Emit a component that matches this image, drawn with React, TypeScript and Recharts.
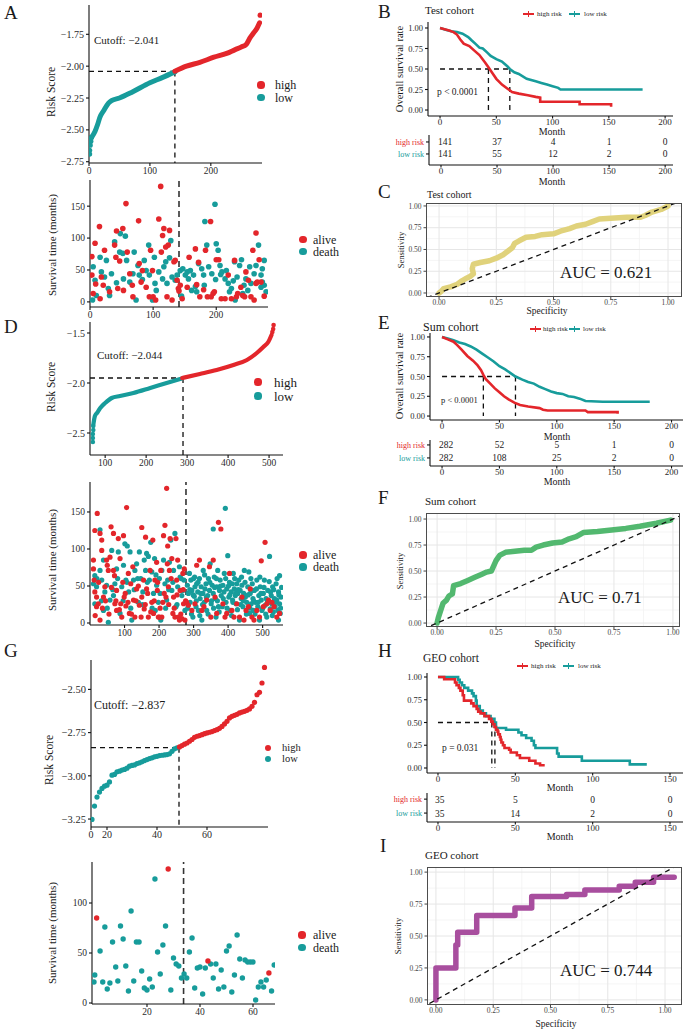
import React from 'react';
import { ComposedChart, XAxis, YAxis, Line, Scatter, ReferenceLine } from 'recharts';

const RED = '#E3262B';
const TEAL = '#179C9B';
const SERIF = '"Liberation Serif","Times New Roman",serif';

// ---------- Risk score curves (sample rank, risk score) ----------
const aRiskLow = [[4,-2.56],[10,-2.51],[14,-2.46],[18,-2.40],[24,-2.35],[32,-2.29],[37,-2.27],[50,-2.25],[72,-2.20],[100,-2.13],[120,-2.09],[141,-2.045]];
const aRiskLowDots = [[1,-2.69],[1,-2.66],[2,-2.62],[3,-2.59],[4,-2.56]];
const aRiskHigh = [[141,-2.04],[160,-2.00],[182,-1.97],[205,-1.93],[226,-1.90],[240,-1.87],[250,-1.85],[258,-1.83],[264,-1.78],[270,-1.74],[276,-1.70],[280,-1.66]];
const aRiskHighDots = [[281,-1.60]];

const dRiskLow = [[71,-2.42],[75,-2.33],[80,-2.30],[88,-2.25],[100,-2.20],[116,-2.15],[136,-2.13],[169,-2.10],[210,-2.05],[250,-2.00],[287,-1.955]];
const dRiskLowDots = [[70,-2.59],[70,-2.55],[70,-2.51],[71,-2.47],[71,-2.43]];
const dRiskHigh = [[288,-1.95],[331,-1.91],[372,-1.87],[413,-1.82],[446,-1.77],[470,-1.70],[486,-1.64],[498,-1.59],[506,-1.52]];
const dRiskHighDots = [[508,-1.49],[510,-1.46],[511,-1.42]];

const gRiskLow = [-3.252,-3.175,-3.123,-3.094,-3.073,-3.06,-3.054,-3.035,-2.996,-2.992,-2.977,-2.973,-2.967,-2.963,-2.956,-2.944,-2.94,-2.937,-2.929,-2.925,-2.919,-2.912,-2.906,-2.9,-2.896,-2.89,-2.887,-2.883,-2.881,-2.879,-2.877,-2.873,-2.858,-2.844,-2.838];
const gRiskHigh = [-2.833,-2.825,-2.817,-2.81,-2.80,-2.79,-2.777,-2.771,-2.767,-2.762,-2.756,-2.752,-2.748,-2.744,-2.738,-2.733,-2.725,-2.714,-2.70,-2.685,-2.665,-2.656,-2.65,-2.644,-2.636,-2.631,-2.627,-2.621,-2.613,-2.598,-2.575,-2.531,-2.517,-2.463,-2.373];
const gFirstRank = 14;

// ---------- Survival time scatter (rank, months) ----------
const aAlive = [[3,71],[3,42],[8,92],[9,28],[5,13],[15,118],[18,39],[21,26],[23,81],[16,5],[31,16],[39,89],[41,70],[42,111],[44,21],[47,64],[52,115],[53,18],[57,154],[59,78],[63,44],[67,26],[68,8],[77,127],[78,60],[81,31],[83,49],[89,23],[94,8],[96,81],[99,49],[100,8],[104,3],[109,130],[112,181],[113,78],[115,104],[117,115],[120,86],[122,8],[124,89],[126,112],[130,3],[133,63],[135,65],[138,34],[140,21],[141,17],[143,26],[146,5],[154,23],[157,70],[167,83],[169,27],[172,62],[174,8],[180,19],[183,81],[186,8],[191,126],[192,8],[195,13],[197,16],[200,66],[204,66],[208,5],[214,5],[219,42],[224,5],[229,65],[232,8],[234,13],[239,23],[242,10],[245,8],[247,47],[251,34],[255,8],[258,81],[260,3],[263,29],[265,31],[263,108],[268,66],[271,31],[276,9]];
const aDeath = [[5,55],[8,34],[4,3],[10,10],[16,70],[18,47],[23,39],[26,65],[29,21],[31,10],[34,44],[39,94],[42,30],[47,78],[48,107],[52,76],[53,36],[56,103],[58,65],[63,31],[68,44],[70,78],[73,3],[76,57],[78,42],[83,35],[86,65],[89,49],[93,89],[94,42],[99,3],[102,70],[103,29],[105,18],[109,47],[115,36],[117,55],[120,63],[122,29],[126,69],[128,96],[130,39],[135,34],[138,42],[143,49],[145,9],[147,52],[151,42],[154,47],[156,36],[159,49],[161,18],[164,42],[167,24],[169,16],[172,60],[177,52],[180,42],[181,26],[182,126],[185,89],[188,55],[193,44],[198,153],[199,35],[200,91],[203,81],[206,57],[207,43],[209,47],[214,36],[216,49],[219,29],[221,16],[224,21],[227,33],[229,63],[230,3],[233,39],[237,57],[240,66],[242,13],[244,26],[247,36],[250,18],[253,55],[255,29],[260,44],[263,57],[267,89],[271,42],[273,31],[276,65],[276,26],[279,16],[271,23],[273,52]];

const dAlive = [[21,148],[14,125],[10,85],[10,73],[12,58],[14,42],[19,35],[24,26],[19,22],[29,4],[29,121],[34,112],[34,98],[39,35],[43,49],[48,85],[50,78],[53,71],[58,89],[61,130],[68,121],[68,71],[71,64],[72,26],[77,44],[77,17],[82,114],[87,87],[89,26],[92,8],[97,118],[99,35],[104,23],[106,156],[111,67],[114,13],[118,53],[124,76],[126,31],[130,8],[135,46],[143,24],[150,129],[150,35],[155,58],[157,19],[161,116],[164,46],[169,8],[174,71],[179,28],[182,112],[184,13],[188,58],[193,82],[195,44],[198,8],[201,8],[205,71],[208,8],[211,28],[213,118],[217,132],[220,35],[222,182],[224,80],[225,104],[227,49],[230,71],[232,114],[237,87],[240,13],[242,35],[246,8],[249,114],[251,58],[254,85],[256,8],[259,4],[261,44],[266,6],[269,67],[271,26],[273,73],[275,4],[280,28],[285,24],[295,17],[304,26],[309,78],[317,85],[324,17],[330,22],[338,31],[346,76],[350,8],[357,85],[362,35],[367,13],[372,136],[379,127],[385,26],[391,8],[396,13],[404,67],[411,17],[417,8],[425,26],[433,8],[440,35],[446,4],[452,17],[459,22],[464,46],[469,8],[475,4],[483,17],[491,8],[496,84],[502,22],[507,109],[512,26],[517,31],[522,17],[527,28],[533,22],[541,8],[549,13],
  [15,10],[25,55],[36,20],[45,30],[55,12],[62,48],[75,30],[85,18],[95,55],[102,40],[110,28],[120,12],[133,30],[140,50],[148,8],[160,25],[167,40],[176,15],[186,30],[196,55],[203,20],[215,40],[228,25],[235,60],[244,20],[252,38],[263,12],[270,45],[277,30]];
const dDeath = [[29,126],[14,64],[10,53],[19,49],[14,26],[29,71],[34,58],[39,85],[39,17],[43,42],[48,51],[53,1],[58,31],[63,98],[68,37],[72,53],[77,73],[82,96],[87,13],[92,49],[97,78],[101,107],[104,58],[108,104],[112,42],[116,96],[121,4],[126,58],[130,71],[135,80],[140,28],[143,96],[147,60],[153,42],[157,85],[161,71],[164,94],[169,90],[172,58],[176,109],[179,69],[184,40],[187,87],[189,17],[193,51],[198,28],[201,60],[205,4],[208,71],[213,85],[217,53],[222,31],[225,58],[230,82],[234,112],[237,44],[242,71],[246,121],[249,22],[254,49],[259,76],[261,62],[266,37],[269,44],[272,58],[275,17],[282,51],[285,40],[288,67],[290,28],[292,58],[295,44],[298,8],[300,60],[302,36],[304,49],[307,22],[309,53],[312,42],[314,17],[317,60],[319,33],[322,49],[324,4],[327,40],[328,71],[331,28],[333,46],[336,53],[338,17],[341,37],[343,60],[346,44],[348,80],[351,26],[354,51],[357,40],[357,127],[360,62],[363,33],[365,8],[367,49],[370,71],[372,22],[375,44],[377,58],[380,37],[385,51],[386,33],[389,67],[392,155],[394,28],[396,46],[399,91],[402,35],[404,55],[406,17],[409,42],[412,53],[413,31],[415,67],[418,46],[421,37],[423,26],[425,53],[428,40],[431,58],[433,4],[435,44],[438,33],[440,51],[443,22],[445,40],[447,71],[450,35],[454,28],[457,49],[460,69],[462,13],[464,40],[467,26],[470,53],[472,33],[473,17],[476,44],[479,28],[483,58],[486,22],[489,37],[491,4],[493,49],[496,31],[498,17],[502,40],[505,58],[507,24],[510,33],[512,8],[515,44],[518,28],[520,90],[522,19],[525,37],[527,26],[529,49],[531,15],[534,33],[536,22],[539,53],[541,31],[544,17],[546,42],[549,26],[551,13],[553,35],[549,64],[546,4],
  [283,20],[289,45],[294,12],[299,38],[303,62],[308,30],[313,55],[318,10],[321,40],[326,25],[332,65],[337,35],[342,12],[347,55],[352,30],[358,20],[361,48],[366,60],[369,30],[374,15],[378,50],[383,22],[388,42],[393,60],[397,20],[401,50],[405,38],[410,10],[414,28],[419,60],[422,40],[427,18],[430,45],[436,25],[439,62],[444,30],[449,55],[453,12],[458,38],[463,20],[466,60],[471,44],[474,30],[478,12],[482,46],[487,28],[492,62],[495,40],[500,20],[504,48],[509,12],[514,30],[519,56],[523,42],[528,10],[532,45],[537,28],[542,60],[547,38],[552,20],[555,48],
  [20,60],[33,30],[50,20],[66,45],[80,60],[96,30],[107,55],[118,20],[128,45],[138,60],[152,25],[166,55],[180,20],[191,65],[203,40],[219,20],[228,45],[240,55],[252,25],[264,60]];

const gAlive = [[1,85],[28,134],[43,42],[66,30]];
const gDeath = [[0.3,28],[0,21],[2.3,52],[3.3,21],[4.1,76],[5,14],[6,20],[7,61],[8.2,36],[9,22],[10,77],[11,64],[12,37],[13,12],[14,92],[15,22],[16,61],[17,61],[18,32],[19,15],[20,13],[21,24],[22,16],[23,124],[24,51],[25,29],[26,58],[27,77],[29,13],[30,45],[31,39],[32,37],[33,25],[34,29],[35,25],[36,51],[37,65],[38,15],[39,35],[40,36],[41,9],[42,35],[44,39],[45,25],[46,39],[47,14],[48,33],[49,16],[50,52],[51,57],[52,11],[53,28],[54,68],[55,44],[56,25],[57,43],[58,41],[59,41],[60,41],[61,3],[62,16],[63,21],[64,16],[65,23],[67,12],[68,38]];

// ---------- Kaplan-Meier (month, survival) ----------
const bHigh = [[0,1],[8,0.97],[12,0.95],[15,0.92],[18,0.86],[21,0.81],[26,0.78],[30,0.73],[35,0.67],[40,0.58],[43,0.52],[46,0.46],[50,0.38],[55,0.31],[60,0.26],[64,0.22],[70,0.2],[78,0.18],[85,0.16],[89,0.15],[89,0.10],[124,0.10],[124,0.07],[152,0.07],[152,0.04]];
const bLow = [[0,1.0],[5,0.98],[10,0.96],[15,0.95],[20,0.93],[25,0.89],[28,0.85],[32,0.8],[35,0.76],[38,0.75],[42,0.7],[45,0.66],[50,0.62],[55,0.59],[60,0.53],[62,0.5],[66,0.46],[70,0.44],[77,0.38],[85,0.35],[90,0.33],[95,0.31],[100,0.29],[105,0.27],[107,0.25],[180,0.25]];
const eHigh = [[0,1],[5,0.97],[10,0.94],[13,0.9],[17,0.84],[22,0.76],[27,0.7],[31,0.64],[34,0.58],[36,0.52],[38,0.47],[42,0.41],[46,0.35],[50,0.3],[54,0.25],[58,0.21],[63,0.17],[68,0.14],[75,0.12],[85,0.1],[88,0.08],[92,0.07],[125,0.07],[127,0.05],[153,0.05],[153,0.03]];
const eLow = [[0,1],[5,0.98],[10,0.96],[15,0.93],[20,0.91],[25,0.88],[30,0.84],[35,0.79],[40,0.74],[45,0.69],[50,0.63],[55,0.59],[60,0.54],[64,0.5],[70,0.46],[75,0.43],[80,0.41],[85,0.37],[90,0.34],[95,0.31],[100,0.29],[105,0.28],[110,0.25],[115,0.24],[120,0.22],[125,0.19],[140,0.18],[181,0.18]];
const hHigh = [[0,1],[4,0.975],[11,0.94],[12,0.91],[13.5,0.88],[14.5,0.85],[16,0.8],[16.8,0.74],[21.5,0.71],[23,0.68],[25,0.65],[26,0.62],[27.5,0.6],[30,0.57],[33,0.54],[34.5,0.51],[35.5,0.48],[36.5,0.45],[37.5,0.42],[38.5,0.4],[39,0.37],[40,0.34],[40.5,0.31],[41,0.28],[42,0.25],[43,0.22],[46,0.2],[47,0.17],[51,0.14],[53,0.11],[59,0.08],[63,0.05],[66,0.03],[69,0.03]];
const hLow = [[0,1],[13,0.97],[14,0.94],[15.5,0.91],[17,0.88],[19.5,0.85],[22,0.82],[23,0.79],[24.5,0.74],[25,0.68],[27,0.63],[29,0.6],[31,0.57],[34,0.54],[36.5,0.5],[37.5,0.44],[44,0.42],[52,0.39],[54,0.36],[57,0.33],[60.5,0.3],[62,0.25],[63,0.22],[77,0.16],[78,0.125],[93,0.08],[124,0.04],[135,0.04]];

// ---------- Numbers at risk ----------
const tableTimesB = [0,50,100,150,200];
const bRiskHigh = [141,37,4,1,0];
const bRiskLow = [141,55,12,2,0];
const eRiskHigh = [282,52,5,1,0];
const eRiskLow = [282,108,25,2,0];
const tableTimesH = [0,50,100,150];
const hRiskHigh = [35,5,0,0];
const hRiskLow = [35,14,2,0];

// ---------- ROC (specificity axis, sensitivity) ----------
const rocC = [[0,0],[0.01,0.02],[0.02,0.05],[0.05,0.07],[0.08,0.1],[0.1,0.14],[0.12,0.17],[0.135,0.19],[0.15,0.22],[0.145,0.28],[0.15,0.33],[0.18,0.35],[0.22,0.37],[0.25,0.4],[0.28,0.44],[0.3,0.48],[0.32,0.52],[0.33,0.57],[0.35,0.6],[0.38,0.64],[0.42,0.65],[0.45,0.67],[0.5,0.68],[0.53,0.71],[0.57,0.74],[0.6,0.77],[0.64,0.79],[0.67,0.82],[0.7,0.85],[0.75,0.86],[0.82,0.87],[0.88,0.87],[0.9,0.89],[0.93,0.93],[0.97,0.96],[1,1]];
const rocF = [[0,0],[0.005,0.05],[0.015,0.12],[0.025,0.19],[0.04,0.22],[0.05,0.26],[0.065,0.28],[0.07,0.36],[0.1,0.38],[0.13,0.41],[0.16,0.44],[0.19,0.47],[0.21,0.49],[0.23,0.5],[0.24,0.55],[0.25,0.6],[0.265,0.65],[0.29,0.68],[0.33,0.69],[0.37,0.7],[0.4,0.7],[0.42,0.73],[0.45,0.75],[0.49,0.77],[0.53,0.78],[0.56,0.81],[0.59,0.83],[0.62,0.87],[0.68,0.88],[0.72,0.89],[0.8,0.91],[0.86,0.93],[0.93,0.96],[0.99,0.99]];
const rocI = [[0,0],[0,0.25],[0.087,0.25],[0.087,0.43],[0.095,0.43],[0.095,0.53],[0.178,0.53],[0.178,0.66],[0.345,0.66],[0.345,0.72],[0.418,0.72],[0.418,0.81],[0.57,0.81],[0.57,0.825],[0.65,0.825],[0.65,0.86],[0.8,0.86],[0.8,0.89],[0.87,0.89],[0.87,0.92],[0.95,0.92],[0.95,0.96],[1.04,0.96]];

const ROC_MAJOR = [0, 0.25, 0.5, 0.75, 1];
const ROC_MINOR = [0.125, 0.375, 0.625, 0.875];

// ---------- helpers ----------
const pts = (a: number[][]) => a.map(([x, y]) => ({ x, y }));
const fmt = (d: number) => (v: number) => v.toFixed(d).replace('-', '\u2212');
const dot = (r: number, c: string) => (p: any) => <circle cx={p.cx} cy={p.cy} r={r} fill={c} />;

function Chart({ box, padL, padB, padT = 6, padR = 6, children }: any) {
  const [x0, y0, x1, y1] = box;
  const width = x1 - x0 + padL + padR;
  const height = y1 - y0 + padT + padB;
  return (
    <div style={{ position: 'absolute', left: x0 - padL, top: y0 - padT, width, height }}>
      <ComposedChart width={width} height={height} margin={{ top: padT, right: padR, bottom: 0, left: 0 }}>
        {children}
      </ComposedChart>
    </div>
  );
}

function T({ x, y, size = 10, color = '#1a1a1a', anchor = 'start', rot = false, children }: any) {
  const tx = anchor === 'middle' ? '-50%' : anchor === 'end' ? '-100%' : '0';
  return (
    <div style={{ position: 'absolute', left: x, top: y, fontFamily: SERIF, fontSize: size, color, lineHeight: 1, whiteSpace: 'nowrap',
      transform: rot ? 'translate(-50%,-50%) rotate(-90deg)' : `translate(${tx},-50%)` }}>{children}</div>
  );
}

function Dot({ x, y, r = 3.6, color }: any) {
  return <div style={{ position: 'absolute', left: x - r, top: y - r, width: 2 * r, height: 2 * r, borderRadius: '50%', background: color }} />;
}

function KmKey({ x, y, color, w = 11 }: any) {
  return (
    <div style={{ position: 'absolute', left: x, top: y - 1.2, width: w, height: 2.4, background: color }}>
      <div style={{ position: 'absolute', left: w / 2 - 0.6, top: -1.6, width: 1.2, height: 5.6, background: color }} />
    </div>
  );
}

const axisStyle = { stroke: '#111', strokeWidth: 1.1 };
const tk = (size: number, fill = '#2a2a2a') => ({ fontSize: size, fill, fontFamily: SERIF });
const dash = { stroke: '#111', strokeDasharray: '5 4', strokeWidth: 1.3 };

function RiskPlot({ box, xDomain, xTicks, xFmt, yDomain, yTicks, yFmt, low, high, lowDots, highDots, cut, lw = 5, r = 2.6, tickSize = 10 }: any) {
  return (
    <Chart box={box} padL={40} padB={16}>
      <XAxis type="number" dataKey="x" domain={xDomain} ticks={xTicks} tickFormatter={xFmt} allowDataOverflow interval={0} height={16}
        tick={tk(tickSize - 0.5)} tickSize={3} tickMargin={1} axisLine={axisStyle} tickLine={axisStyle} />
      <YAxis type="number" dataKey="y" domain={yDomain} ticks={yTicks} tickFormatter={yFmt} allowDataOverflow interval={0} width={40}
        tick={tk(tickSize)} tickSize={3} axisLine={axisStyle} tickLine={axisStyle} />
      <ReferenceLine segment={[{ x: xDomain[0], y: cut[1] }, { x: cut[0], y: cut[1] }]} {...dash} ifOverflow="visible" />
      <ReferenceLine segment={[{ x: cut[0], y: cut[1] }, { x: cut[0], y: yDomain[0] }]} {...dash} ifOverflow="visible" />
      {low ? <Line data={pts(low)} dataKey="y" type="monotone" stroke={TEAL} strokeWidth={lw} strokeLinecap="round" dot={false} isAnimationActive={false} /> : null}
      {high ? <Line data={pts(high)} dataKey="y" type="monotone" stroke={RED} strokeWidth={lw} strokeLinecap="round" dot={false} isAnimationActive={false} /> : null}
      <Scatter data={pts(lowDots)} fill={TEAL} shape={dot(r, TEAL)} isAnimationActive={false} />
      <Scatter data={pts(highDots)} fill={RED} shape={dot(r, RED)} isAnimationActive={false} />
    </Chart>
  );
}

function SurvPlot({ box, xDomain, xTicks, yDomain, yTicks, alive, death, cutX, r = 2.8 }: any) {
  return (
    <Chart box={box} padL={40} padB={16}>
      <XAxis type="number" dataKey="x" domain={xDomain} ticks={xTicks} allowDataOverflow interval={0} height={16}
        tick={tk(9.5)} tickSize={3} tickMargin={1} axisLine={axisStyle} tickLine={axisStyle} />
      <YAxis type="number" dataKey="y" domain={yDomain} ticks={yTicks} allowDataOverflow interval={0} width={40}
        tick={tk(9.5)} tickSize={3} axisLine={axisStyle} tickLine={axisStyle} />
      <Scatter data={pts(death)} fill={TEAL} shape={dot(r, TEAL)} isAnimationActive={false} />
      <Scatter data={pts(alive)} fill={RED} shape={dot(r, RED)} isAnimationActive={false} />
      <ReferenceLine segment={[{ x: cutX, y: yDomain[0] }, { x: cutX, y: yDomain[1] }]} stroke="#333" strokeDasharray="6 4" strokeWidth={1.6} />
    </Chart>
  );
}

function KMPlot({ box, xDomain, xTicks, yDomain, high, low, medLen, medX, step = false }: any) {
  const t = step ? 'stepAfter' : 'linear';
  return (
    <Chart box={box} padL={30} padB={12}>
      <XAxis type="number" dataKey="x" domain={xDomain} ticks={xTicks} allowDataOverflow interval={0} height={12}
        tick={tk(9)} tickSize={2.5} tickMargin={0} axisLine={axisStyle} tickLine={axisStyle} />
      <YAxis type="number" dataKey="y" domain={yDomain} ticks={[0, 0.25, 0.5, 0.75, 1]} tickFormatter={fmt(2)} allowDataOverflow interval={0} width={30}
        tick={tk(8.5)} tickSize={3} axisLine={axisStyle} tickLine={axisStyle} />
      <ReferenceLine segment={[{ x: 0, y: 0.5 }, { x: medLen, y: 0.5 }]} {...dash} />
      {medX.map((m: number, i: number) => (
        <ReferenceLine key={i} segment={[{ x: m, y: 0.5 }, { x: m, y: 0 }]} {...dash} />
      ))}
      <Line data={pts(low)} dataKey="y" type={t} stroke={TEAL} strokeWidth={2.6} dot={false} isAnimationActive={false} />
      <Line data={pts(high)} dataKey="y" type={t} stroke={RED} strokeWidth={2.6} dot={false} isAnimationActive={false} />
    </Chart>
  );
}

function TablePlot({ box, xDomain, xTicks, yDomain, times, high, low }: any) {
  const hi = times.map((x: number, i: number) => ({ x, y: 2, v: high[i] }));
  const lo = times.map((x: number, i: number) => ({ x, y: 1, v: low[i] }));
  const cell = (p: any) => (
    <text x={p.cx} y={p.cy} dy={3.5} textAnchor={p.payload.x === 0 ? 'start' : 'middle'} dx={p.payload.x === 0 ? -3 : 0}
      fontSize={9.5} fontFamily={SERIF} fill="#1a1a1a">{p.payload.v}</text>
  );
  const yTick = (p: any) => (
    <text x={p.x} y={p.y} dy={3} textAnchor="end" fontSize={8} fontFamily={SERIF} fill={p.payload.value === 2 ? RED : TEAL}>
      {p.payload.value === 2 ? 'high risk' : 'low risk'}
    </text>
  );
  return (
    <Chart box={box} padL={60} padB={12} padT={2}>
      <XAxis type="number" dataKey="x" domain={xDomain} ticks={xTicks} allowDataOverflow interval={0} height={12}
        tick={tk(9)} tickSize={2.5} tickMargin={0} axisLine={axisStyle} tickLine={axisStyle} />
      <YAxis type="number" dataKey="y" domain={yDomain} ticks={[1, 2]} allowDataOverflow interval={0} width={60}
        tick={yTick} tickSize={3} axisLine={axisStyle} tickLine={axisStyle} />
      <Scatter data={hi} shape={cell} isAnimationActive={false} />
      <Scatter data={lo} shape={cell} isAnimationActive={false} />
    </Chart>
  );
}

function RocPlot({ box, xDomain, yDomain, data, color }: any) {
  const [x0, y0, x1, y1] = box;
  return (
    <>
      <Chart box={box} padL={30} padB={11} padT={2} padR={2}>
        <XAxis type="number" dataKey="x" domain={xDomain} ticks={ROC_MAJOR} tickFormatter={fmt(2)} allowDataOverflow interval={0} height={11}
          tick={tk(7.5, '#444')} tickSize={2.5} tickMargin={0} axisLine={false} tickLine={{ stroke: '#444' }} />
        <YAxis type="number" dataKey="y" domain={yDomain} ticks={ROC_MAJOR} tickFormatter={fmt(2)} allowDataOverflow interval={0} width={30}
          tick={tk(7.5, '#444')} tickSize={2.5} axisLine={false} tickLine={{ stroke: '#444' }} />
        {ROC_MINOR.map((v) => <ReferenceLine key={'mx' + v} x={v} stroke="#F2F2F2" strokeWidth={0.8} />)}
        {ROC_MINOR.map((v) => <ReferenceLine key={'my' + v} y={v} stroke="#F2F2F2" strokeWidth={0.8} />)}
        {ROC_MAJOR.map((v) => <ReferenceLine key={'Mx' + v} x={v} stroke="#E6E6E6" strokeWidth={1} />)}
        {ROC_MAJOR.map((v) => <ReferenceLine key={'My' + v} y={v} stroke="#E6E6E6" strokeWidth={1} />)}
        <Line data={pts(data)} dataKey="y" type="linear" stroke={color} strokeWidth={5.5} strokeLinejoin="round" strokeLinecap="round" dot={false} isAnimationActive={false} />
        <ReferenceLine segment={[{ x: -0.2, y: -0.2 }, { x: 1.2, y: 1.2 }]} stroke="#111" strokeDasharray="5 4" strokeWidth={1.3} ifOverflow="hidden" />
      </Chart>
      <div style={{ position: 'absolute', left: x0, top: y0, width: x1 - x0, height: y1 - y0, border: '1px solid #4d4d4d', boxSizing: 'border-box' }} />
    </>
  );
}

export default function App() {
  const gLow = gRiskLow.map((y, i) => [gFirstRank + i, y]);
  const gHigh = gRiskHigh.map((y, i) => [gFirstRank + gRiskLow.length + i, y]);
  return (
    <div style={{ position: 'absolute', left: 0, top: 0, width: 685, height: 1033, background: '#fff', overflow: 'hidden', fontFamily: SERIF }}>
      {/* ---------- A ---------- */}
      <T x={4} y={12} size={19}>A</T>
      <RiskPlot box={[89, 5, 262, 163]} xDomain={[0, 284]} xTicks={[0, 100, 200]} yDomain={[-2.76, -1.52]}
        yTicks={[-2.75, -2.5, -2.25, -2.0, -1.75]} yFmt={fmt(2)} low={aRiskLow} high={aRiskHigh}
        lowDots={aRiskLowDots} highDots={aRiskHighDots} cut={[141, -2.041]} />
      <T x={94} y={40} size={11}>Cutoff: {'\u2212'}2.041</T>
      <T x={52} y={92} size={11.5} rot>Risk Score</T>
      <Dot x={261} y={85} color={RED} /><T x={275} y={85} size={12}>high</T>
      <Dot x={261} y={97.5} color={TEAL} /><T x={275} y={97.5} size={12}>low</T>

      <SurvPlot box={[90, 180, 268, 307]} xDomain={[0, 282]} xTicks={[0, 100, 200]} yDomain={[-8, 191]} yTicks={[0, 50, 100, 150]}
        alive={aAlive} death={aDeath} cutX={141} />
      <T x={52} y={245} size={11} rot>Survival time (months)</T>
      <Dot x={303} y={239.5} color={RED} /><T x={313} y={239.5} size={12}>alive</T>
      <Dot x={303} y={251.5} color={TEAL} /><T x={313} y={251.5} size={12}>death</T>

      {/* ---------- B ---------- */}
      <T x={378} y={11} size={19}>B</T>
      <T x={425} y={10} size={11}>Test cohort</T>
      <KmKey x={523} y={14} color={RED} /><T x={537} y={14} size={7}>high risk</T>
      <KmKey x={569} y={14} color={TEAL} /><T x={584} y={14} size={7}>low risk</T>
      <KMPlot box={[428, 22, 673, 116]} xDomain={[-10.7, 207]} xTicks={[0, 50, 100, 150, 200]} yDomain={[-0.073, 1.073]}
        high={bHigh} low={bLow} medLen={62} medX={[43, 62]} />
      <T x={400} y={69} size={10.5} rot>Overall survival rate</T>
      <T x={437} y={93} size={9.5}>p {'<'} 0.0001</T>
      <T x={552} y={132} size={10} anchor="middle">Month</T>
      <TablePlot box={[429, 135, 673, 165]} xDomain={[-10.7, 207]} xTicks={tableTimesB} yDomain={[0.08, 2.58]}
        times={tableTimesB} high={bRiskHigh} low={bRiskLow} />
      <T x={552} y={182} size={10} anchor="middle">Month</T>

      {/* ---------- C ---------- */}
      <T x={378} y={191} size={19}>C</T>
      <T x={427} y={195} size={10}>Test cohort</T>
      <RocPlot box={[426, 203, 682, 297]} xDomain={[-0.057, 1.061]} yDomain={[-0.046, 1.034]} data={rocC} color="#E0D27B" />
      <T x={401} y={250} size={8.5} rot>Sensitivity</T>
      <T x={547} y={312} size={9.5} anchor="middle">Specificity</T>
      <T x={560} y={272} size={17}>AUC = 0.621</T>

      {/* ---------- D ---------- */}
      <T x={4} y={326} size={19}>D</T>
      <RiskPlot box={[90, 322, 283, 455]} xDomain={[63, 534]} xTicks={[100, 200, 300, 400, 500]} yDomain={[-2.72, -1.39]}
        yTicks={[-2.5, -2.0, -1.5]} yFmt={fmt(1)} low={dRiskLow} high={dRiskHigh}
        lowDots={dRiskLowDots} highDots={dRiskHighDots} cut={[290, -1.95]} lw={4.2} r={2.3} />
      <T x={97} y={355} size={11}>Cutoff: {'\u2212'}2.044</T>
      <T x={52} y={387} size={11.5} rot>Risk Score</T>
      <Dot x={258} y={382} color={RED} /><T x={274} y={382} size={13}>high</T>
      <Dot x={258} y={396} color={TEAL} /><T x={274} y={396} size={13}>low</T>

      <SurvPlot box={[90, 482, 283, 625]} xDomain={[0, 559]} xTicks={[100, 200, 300, 400, 500]} yDomain={[-2.7, 190.5]} yTicks={[0, 50, 100, 150]}
        alive={dAlive} death={dDeath} cutX={278} r={2.6} />
      <T x={52} y={560} size={11} rot>Survival time (months)</T>
      <Dot x={303} y={555} color={RED} /><T x={313} y={555} size={12}>alive</T>
      <Dot x={303} y={567} color={TEAL} /><T x={313} y={567} size={12}>death</T>

      {/* ---------- E ---------- */}
      <T x={378} y={322} size={19}>E</T>
      <T x={423} y={327} size={12}>Sum cohort</T>
      <KmKey x={530} y={329} color={RED} /><T x={543} y={329} size={7}>high risk</T>
      <KmKey x={569} y={329} color={TEAL} /><T x={583} y={329} size={7}>low risk</T>
      <KMPlot box={[430, 333, 683, 420]} xDomain={[-10.5, 210]} xTicks={[0, 50, 100, 150, 200]} yDomain={[-0.05, 1.05]}
        high={eHigh} low={eLow} medLen={64} medX={[36, 64]} />
      <T x={400} y={376} size={10.5} rot>Overall survival rate</T>
      <T x={441} y={400} size={8.5}>p {'<'} 0.0001</T>
      <T x={557} y={437} size={10} anchor="middle">Month</T>
      <TablePlot box={[430, 440, 683, 466]} xDomain={[-10.5, 210]} xTicks={tableTimesB} yDomain={[0.38, 2.38]}
        times={tableTimesB} high={eRiskHigh} low={eRiskLow} />
      <T x={557} y={482} size={10} anchor="middle">Month</T>

      {/* ---------- F ---------- */}
      <T x={378} y={497} size={19}>F</T>
      <T x={425} y={501} size={11}>Sum cohort</T>
      <RocPlot box={[426, 513, 680, 627]} xDomain={[-0.047, 1.03]} yDomain={[-0.038, 1.058]} data={rocF} color="#52B86F" />
      <T x={400} y={571} size={8.5} rot>Sensitivity</T>
      <T x={558} y={597} size={17}>AUC = 0.71</T>
      <T x={555} y={645} size={9.5} anchor="middle">Specificity</T>

      {/* ---------- G ---------- */}
      <T x={4} y={650} size={19}>G</T>
      <RiskPlot box={[91, 660, 268, 827]} xDomain={[13.6, 84.4]} xTicks={[13.6, 20, 40, 60]} xFmt={(v: number) => (v < 15 ? '0' : String(v))}
        yDomain={[-3.296, -2.33]} yTicks={[-3.25, -3.0, -2.75, -2.5]} yFmt={fmt(2)} lowDots={gLow} highDots={gHigh}
        cut={[48.8, -2.837]} r={2.6} tickSize={10.5} />
      <T x={94} y={705} size={12}>Cutoff: {'\u2212'}2.837</T>
      <T x={50} y={760} size={11.5} rot>Risk Score</T>
      <Dot x={268} y={747.5} r={3} color={RED} /><T x={282} y={747.5} size={10.5}>high</T>
      <Dot x={268} y={758.5} r={3} color={TEAL} /><T x={282} y={758.5} size={10.5}>low</T>

      <SurvPlot box={[92, 862, 275, 1004]} xDomain={[-0.75, 68.3]} xTicks={[20, 40, 60]} yDomain={[-1, 141]} yTicks={[0, 50, 100]}
        alive={gAlive} death={gDeath} cutX={33.8} r={2.7} />
      <T x={52} y={933} size={11} rot>Survival time (months)</T>
      <Dot x={302} y={935} color={RED} /><T x={313} y={935} size={12}>alive</T>
      <Dot x={302} y={947.5} color={TEAL} /><T x={313} y={947.5} size={12}>death</T>

      {/* ---------- H ---------- */}
      <T x={378} y={650} size={19}>H</T>
      <T x={423} y={659} size={11.5}>GEO cohort</T>
      <KmKey x={517} y={666} color={RED} /><T x={531} y={666} size={7}>high risk</T>
      <KmKey x={563} y={666} color={TEAL} /><T x={578} y={666} size={7}>low risk</T>
      <KMPlot box={[427, 673, 683, 773]} xDomain={[-7.1, 158.4]} xTicks={[0, 50, 100, 150]} yDomain={[-0.055, 1.044]}
        high={hHigh} low={hLow} medLen={36} medX={[34.8, 36.8]} step />
      <T x={442} y={749} size={9.5}>p = 0.031</T>
      <T x={560} y={788} size={10} anchor="middle">Month</T>
      <TablePlot box={[427, 793, 683, 822]} xDomain={[-7.1, 158.4]} xTicks={tableTimesH} yDomain={[0.36, 2.44]}
        times={tableTimesH} high={hRiskHigh} low={hRiskLow} />
      <T x={560} y={837} size={10} anchor="middle">Month</T>

      {/* ---------- I ---------- */}
      <T x={380} y={845} size={19}>I</T>
      <T x={425} y={855} size={11}>GEO cohort</T>
      <RocPlot box={[427, 867, 682, 1005]} xDomain={[-0.039, 1.074]} yDomain={[-0.04, 1.04]} data={rocI} color="#A84E9E" />
      <T x={398} y={936} size={8.5} rot>Sensitivity</T>
      <T x={560} y={970} size={17}>AUC = 0.744</T>
      <T x={556} y={1025} size={9.5} anchor="middle">Specificity</T>
    </div>
  );
}
